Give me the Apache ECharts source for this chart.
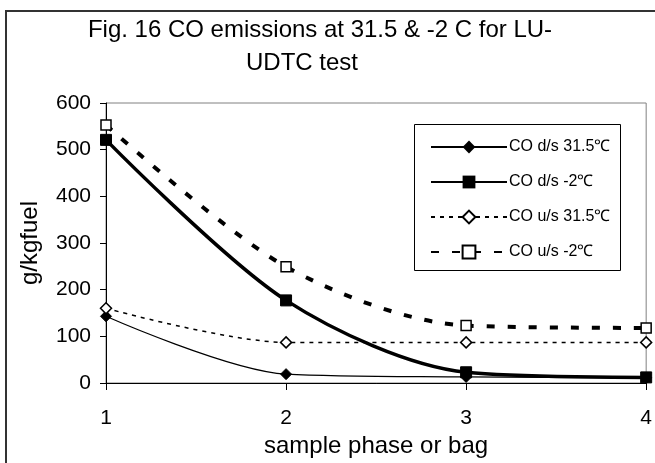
<!DOCTYPE html>
<html>
<head>
<meta charset="utf-8">
<script src="https://cdn.jsdelivr.net/npm/echarts@6/dist/echarts.min.js"></script>
<style>
html,body{margin:0;padding:0;background:#fff;}
#c{width:655px;height:463px;}
</style>
</head>
<body>
<div id="c"></div>
<script>
var phases = [1, 2, 3, 4];
var seriesNames = ['CO d/s 31.5\u2103', 'CO d/s -2\u2103', 'CO u/s 31.5\u2103', 'CO u/s -2\u2103'];
var ds315 = [143, 19, 13, 11];
var dsM2 = [521, 177, 23, 12];
var us315 = [160, 87, 87, 87];
var usM2 = [553, 249, 123, 118];
var yTicks = [0, 100, 200, 300, 400, 500, 600];
var titleLines = ['Fig. 16 CO emissions at 31.5 & -2 C for LU-', 'UDTC test'];

function pairs(vals){ return phases.map(function(p,i){ return [p, vals[i]]; }); }

var FONT = 'Liberation Sans, Arial, sans-serif';
var chart = echarts.init(document.getElementById('c'), null, {renderer:'canvas'});
chart.setOption({
  backgroundColor: '#fff',
  animation: false,
  graphic: [
    {type:'rect', z:-10, shape:{x:6, y:11, width:720, height:520}, style:{fill:'#fff', stroke:'#333', lineWidth:2}},
    {type:'rect', z:5, shape:{x:414.5, y:124.5, width:206, height:146}, style:{fill:'#fff', stroke:'#000', lineWidth:1}}
  ],
  title: [
    {text: titleLines[0], left: 320, top: 18, textAlign: 'center', padding: 0,
     textStyle: {fontFamily: FONT, fontSize: 24, fontWeight: 'normal', color: '#000'}},
    {text: titleLines[1], left: 302, top: 51, textAlign: 'center', padding: 0,
     textStyle: {fontFamily: FONT, fontSize: 24, fontWeight: 'normal', color: '#000'}}
  ],
  legend: {
    orient: 'vertical', left: 425, top: 134, z: 10,
    itemWidth: 76, itemHeight: 16, itemGap: 19,
    textStyle: {fontFamily: FONT, fontSize: 16, color: '#000', padding:[0,0,0,-3]},
    data: seriesNames
  },
  grid: {left: 106, right: 7, top: 103, bottom: 80, show: true, borderColor: '#808080', borderWidth: 1, backgroundColor:'transparent'},
  xAxis: {
    type: 'value', min: 1, max: 4, interval: 1,
    name: 'sample phase or bag', nameLocation: 'middle', nameGap: 45,
    nameTextStyle: {fontFamily: FONT, fontSize: 24, color: '#000'},
    axisLine: {show: true, lineStyle: {color: '#000', width: 1}},
    axisTick: {show: true, length: 7, lineStyle: {color: '#000'}},
    axisLabel: {fontFamily: FONT, fontSize: 21, color: '#000', margin: 25},
    splitLine: {show: false}
  },
  yAxis: {
    type: 'value', min: yTicks[0], max: yTicks[yTicks.length-1], interval: 100,
    name: 'g/kgfuel', nameLocation: 'middle', nameGap: 64, nameRotate: 90,
    nameTextStyle: {fontFamily: FONT, fontSize: 24, color: '#000'},
    axisLine: {show: true, lineStyle: {color: '#000', width: 1}},
    axisTick: {show: true, length: 6, lineStyle: {color: '#000'}},
    axisLabel: {fontFamily: FONT, fontSize: 21, color: '#000', margin: 15},
    splitLine: {show: false}
  },
  series: [
    {name: seriesNames[0], type: 'line', data: pairs(ds315), smooth: 0.3,
     symbol: 'diamond', symbolSize: 11,
     lineStyle: {color: '#000', width: 1.2},
     itemStyle: {color: '#000', borderColor: '#000'}},
    {name: seriesNames[1], type: 'line', data: pairs(dsM2), smooth: 0.3,
     symbol: 'rect', symbolSize: 11,
     lineStyle: {color: '#000', width: 3.5},
     itemStyle: {color: '#000', borderColor: '#000'}},
    {name: seriesNames[2], type: 'line', data: pairs(us315), smooth: 0.3,
     symbol: 'diamond', symbolSize: 11,
     lineStyle: {color: '#000', width: 1.5, type: [4, 5]},
     itemStyle: {color: '#fff', borderColor: '#000', borderWidth: 1.5}},
    {name: seriesNames[3], type: 'line', data: pairs(usM2), smooth: 0.3,
     symbol: 'rect', symbolSize: 10,
     lineStyle: {color: '#000', width: 4, type: [8, 13]},
     itemStyle: {color: '#fff', borderColor: '#000', borderWidth: 1.5}}
  ]
});
</script>
</body>
</html>
